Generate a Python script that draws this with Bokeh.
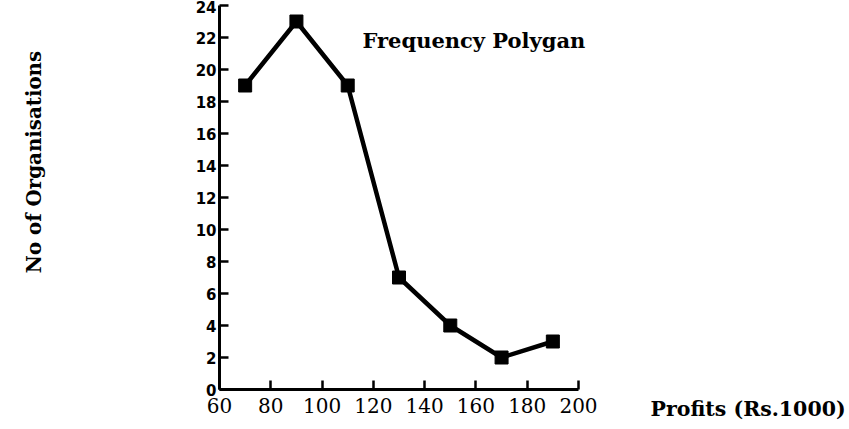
import math
from bokeh.plotting import figure
from bokeh.models import Label, Range1d, FixedTicker, LinearAxis
from bokeh.embed import file_html
from bokeh.resources import INLINE

# ---- data ----
profits = [70, 90, 110, 130, 150, 170, 190]
organisations = [19, 23, 19, 7, 4, 2, 3]
x_ticks = [60, 80, 100, 120, 140, 160, 180, 200]
y_ticks = [0, 2, 4, 6, 8, 10, 12, 14, 16, 18, 20, 22, 24]
title_text = "Frequency Polygan"
x_label = "Profits (Rs.1000)"
y_label = "No of Organisations"

# ---- layout (pixels) ----
W, H = 849, 429
X0_PX, X1_PX = 219, 578     # where x=60 and x=200 fall
Y0_PX, Y1_PX = 389, 5       # where y=0 and y=24 fall (from top)
x_lo, x_hi = x_ticks[0], x_ticks[-1]
y_lo, y_hi = y_ticks[0], y_ticks[-1]
kx = (X1_PX - X0_PX) / (x_hi - x_lo)
ky = (Y0_PX - Y1_PX) / (y_hi - y_lo)
xs = x_lo - X0_PX / kx
xe = xs + W / kx
ye = y_hi + Y1_PX / ky
ys = ye - H / ky


def dx(px):
    return xs + px / kx


def dy(py):
    return ye - py / ky


p = figure(width=W, height=H, output_backend="svg", toolbar_location=None,
           x_range=Range1d(xs, xe), y_range=Range1d(ys, ye),
           x_axis_location=None, y_axis_location=None, min_border=0)
p.outline_line_color = None
p.xgrid.visible = False
p.ygrid.visible = False
p.background_fill_color = "white"
p.border_fill_color = "white"

xax = LinearAxis(fixed_location=y_lo, bounds=(x_lo, x_hi),
                 ticker=FixedTicker(ticks=x_ticks))
yax = LinearAxis(fixed_location=x_lo, bounds=(y_lo, y_hi),
                 ticker=FixedTicker(ticks=y_ticks))
for ax in (xax, yax):
    ax.axis_line_width = 3
    ax.axis_line_color = "black"
    ax.major_tick_line_width = 2.5
    ax.major_tick_line_color = "black"
    ax.major_tick_in = 9
    ax.major_tick_out = 0
    ax.minor_tick_line_color = None
    ax.major_label_text_color = "black"

xax.major_label_text_font = "DejaVu Serif"
xax.major_label_text_font_size = "20px"
xax.major_label_standoff = 8
yax.major_label_text_font = "DejaVu Sans"
yax.major_label_text_font_style = "bold"
yax.major_label_text_font_size = "15px"
yax.major_label_standoff = 3
p.add_layout(xax, "below")
p.add_layout(yax, "left")

p.line(profits, organisations, line_color="black", line_width=4.5)
p.scatter(profits, organisations, marker="square", size=13,
          fill_color="black", line_color="black")

p.add_layout(Label(x=dx(362), y=dy(40), text=title_text, text_font="DejaVu Serif",
                   text_font_style="bold", text_font_size="21px", text_color="black",
                   text_baseline="alphabetic", text_align="left"))
p.add_layout(Label(x=dx(650), y=dy(408), text=x_label, text_font="DejaVu Serif",
                   text_font_style="bold", text_font_size="20.5px", text_color="black",
                   text_baseline="alphabetic", text_align="left"))
p.add_layout(Label(x=dx(33), y=dy(161.5), text=y_label, text_font="DejaVu Serif",
                   text_font_style="bold", text_font_size="19.8px", text_color="black",
                   angle=math.pi / 2, text_baseline="alphabetic", text_align="center"))

open("out.html", "w").write(file_html(p, INLINE))
